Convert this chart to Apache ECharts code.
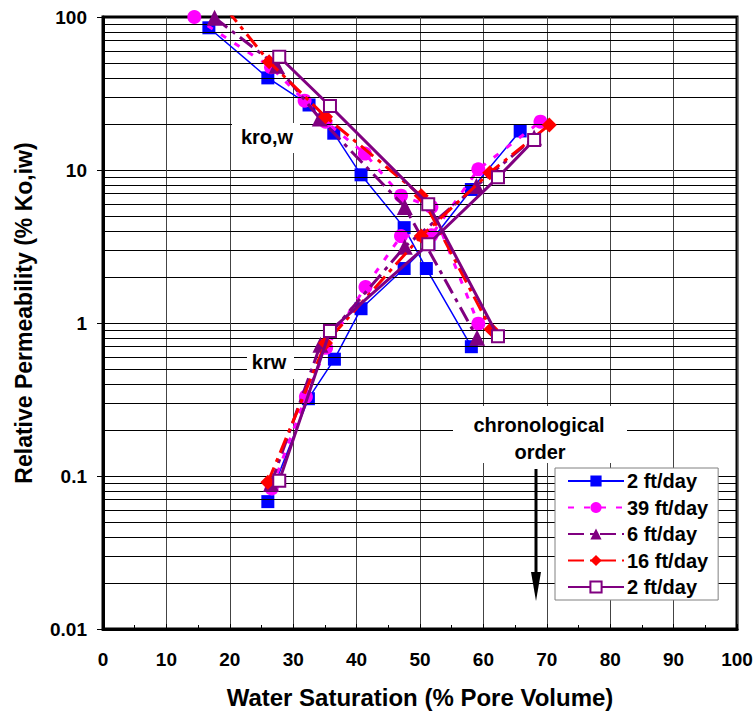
<!DOCTYPE html>
<html>
<head>
<meta charset="utf-8">
<script src="https://cdn.jsdelivr.net/npm/echarts@6/dist/echarts.min.js"></script>
<style>
  html, body { margin: 0; padding: 0; background: #fff; }
  #chart { width: 754px; height: 711px; }
</style>
</head>
<body>
<div id="chart"></div>
<script>
// Water saturation (%) / relative permeability (% Ko,iw)
// 2 ft/day (first run)
const a_kroSw = [16.7, 26.0, 32.5, 36.4, 40.7, 47.5, 51.0, 58.1]
const a_kro   = [85, 40, 26.6, 17.4, 9.3, 4.2, 2.27, 0.70]
const a_krwSw = [26.0, 32.4, 36.5, 40.7, 47.5, 51.4, 58.1, 65.8]
const a_krw   = [0.068, 0.32, 0.58, 1.24, 2.27, 3.3, 7.46, 18.0]
// 39 ft/day
const b_kroSw = [14.4, 26.5, 31.8, 35.1, 41.3, 47.0, 51.8, 59.2]
const b_kro   = [100, 47, 28.4, 20.7, 12.8, 6.8, 5.74, 0.99]
const b_krwSw = [26.6, 32.0, 35.2, 41.4, 47.0, 51.8, 59.2, 69.0]
const b_krw   = [0.083, 0.33, 0.69, 1.72, 3.70, 3.75, 10.1, 20.7]
// 6 ft/day
const c_kroSw = [17.6, 27.4, 34.2, 47.6, 59.0]
const c_kro   = [99, 48, 21.7, 5.74, 0.80]
const c_krwSw = [26.5, 34.3, 47.6, 58.9, 68.0]
const c_krw   = [0.089, 0.72, 3.15, 7.85, 16.3]
// 16 ft/day
const d_kroSw = [19.5, 26.2, 35.1, 50.2, 61.2]
const d_kro   = [112, 51, 22.3, 6.78, 0.91]
const d_krwSw = [26.0, 35.1, 50.2, 61.0, 70.4]
const d_krw   = [0.091, 0.74, 3.70, 9.6, 19.7]
// 2 ft/day (last run)
const e_kroSw = [27.8, 35.8, 51.3, 62.3]
const e_kro   = [55, 26.2, 5.98, 0.82]
const e_krwSw = [27.8, 35.8, 51.3, 62.3, 68.0]
const e_krw   = [0.093, 0.887, 3.27, 8.95, 15.7]

const runNames = ['2 ft/day (first)', '39 ft/day', '6 ft/day', '16 ft/day', '2 ft/day (last)']
const yTickLabels = ['0.01', '0.1', '1', '10', '100']
const minorGridValues = [2,3,4,5,6,7,8,9].flatMap(m => [0.01, 0.1, 1, 10].map(d => +(m * d).toPrecision(3)))

const FONT = "'Liberation Sans', Arial, sans-serif"
const pts = (sw, k) => sw.map((x, i) => [x, k[i]])

const styles = [
  { color: '#0000ff', width: 1.5, type: 'solid', symbol: 'rect', size: 13, fill: '#0000ff' },
  { color: '#ff00ff', width: 3, type: [6, 10], symbol: 'circle', size: 14, fill: '#ff00ff' },
  { color: '#800080', width: 3, type: [16, 6, 4, 6], symbol: 'triangle', size: 16, fill: '#800080' },
  { color: '#ff0000', width: 3, type: [16, 6, 4, 6], symbol: 'diamond', size: 15, fill: '#ff0000' },
  { color: '#800080', width: 3, type: 'solid', symbol: 'rect', size: 12, fill: '#ffffff' }
]
const sets = [
  [pts(a_kroSw, a_kro), pts(a_krwSw, a_krw)],
  [pts(b_kroSw, b_kro), pts(b_krwSw, b_krw)],
  [pts(c_kroSw, c_kro), pts(c_krwSw, c_krw)],
  [pts(d_kroSw, d_kro), pts(d_krwSw, d_krw)],
  [pts(e_kroSw, e_kro), pts(e_krwSw, e_krw)]
]

const series = [{
  // helper: minor log grid lines
  type: 'line', data: [], silent: true, z: 1,
  markLine: {
    silent: true, symbol: ['none', 'none'], animation: false,
    label: { show: false },
    lineStyle: { type: 'solid', color: '#000', width: 1 },
    data: minorGridValues.map(v => ({ yAxis: v }))
  }
}]
sets.forEach((pair, i) => {
  const s = styles[i]
  pair.forEach(data => {
    series.push({
      name: runNames[i],
      type: 'line',
      data: data,
      z: 3 + i,
      clip: true,
      symbol: s.symbol,
      symbolSize: s.size,
      showAllSymbol: true,
      animation: false,
      itemStyle: { color: s.fill, borderColor: s.color, borderWidth: i === 4 ? 2 : 0 },
      lineStyle: { color: s.color, width: s.width, type: s.type }
    })
  })
})

const myChart = echarts.init(document.getElementById('chart'), null, { renderer: 'svg' })
myChart.setOption({
  backgroundColor: '#fff',
  animation: false,
  textStyle: { fontFamily: FONT },
  grid: {
    left: 103, right: 17, top: 17, bottom: 82,
    show: true, borderColor: '#000', borderWidth: 3,
    outerBoundsMode: 'none'
  },
  xAxis: {
    type: 'value', min: 0, max: 100, interval: 10,
    name: 'Water Saturation (% Pore Volume)',
    nameLocation: 'middle', nameGap: 56,
    nameTextStyle: { fontSize: 24, fontWeight: 'bold', color: '#000', fontFamily: FONT },
    axisLine: { lineStyle: { color: '#000', width: 3 } },
    axisTick: { inside: true, length: 5, lineStyle: { color: '#000' } },
    minorTick: { show: true, splitNumber: 2, length: 4, lineStyle: { color: '#000' } },
    splitLine: { show: true, lineStyle: { color: '#444', width: 1 } },
    axisLabel: { margin: 21, fontSize: 19, fontWeight: 'bold', color: '#000', fontFamily: FONT }
  },
  yAxis: {
    type: 'log', logBase: 10, min: 0.01, max: 100,
    name: 'Relative Permeability (% Ko,iw)',
    nameLocation: 'middle', nameGap: 68,
    nameTextStyle: { fontSize: 23, fontWeight: 'bold', color: '#000', fontFamily: FONT, padding: [0, 0, 0, 20] },
    axisLine: { lineStyle: { color: '#000', width: 3 } },
    axisTick: { length: 6, lineStyle: { color: '#000' } },
    splitLine: { show: true, lineStyle: { color: '#000', width: 1 } },
    axisLabel: {
      margin: 16, fontSize: 19, fontWeight: 'bold', color: '#000', fontFamily: FONT,
      formatter: v => yTickLabels[Math.round(Math.log10(v)) + 2]
    }
  },
  legend: {
    orient: 'vertical', left: 555, top: 468,
    data: runNames,
    formatter: n => n.replace(/ \(.*\)/, ''),
    itemWidth: 56, itemHeight: 14, itemGap: 6.5,
    padding: [3, 10, 3, 12],
    backgroundColor: '#fff', borderColor: '#808080', borderWidth: 1,
    textStyle: { fontSize: 20, lineHeight: 20, fontWeight: 'bold', color: '#000', fontFamily: FONT, padding: [0, 0, 0, -2] },
    z: 20
  },
  graphic: [
    { type: 'rect', z: 10, shape: { x: 232, y: 123, width: 68, height: 30 }, style: { fill: '#fff' } },
    { type: 'text', z: 11, x: 267, y: 137, style: { text: 'kro,w', fill: '#000', font: 'bold 20px ' + FONT, align: 'center', verticalAlign: 'middle' } },
    { type: 'rect', z: 10, shape: { x: 247, y: 347, width: 47, height: 32 }, style: { fill: '#fff' } },
    { type: 'text', z: 11, x: 269, y: 362, style: { text: 'krw', fill: '#000', font: 'bold 20px ' + FONT, align: 'center', verticalAlign: 'middle' } },
    { type: 'rect', z: 10, shape: { x: 453, y: 406, width: 174, height: 57 }, style: { fill: '#fff' } },
    { type: 'text', z: 11, x: 539, y: 425, style: { text: 'chronological', fill: '#000', font: 'bold 20px ' + FONT, align: 'center', verticalAlign: 'middle' } },
    { type: 'text', z: 11, x: 540, y: 452, style: { text: 'order', fill: '#000', font: 'bold 20px ' + FONT, align: 'center', verticalAlign: 'middle' } },
    { type: 'line', z: 11, shape: { x1: 536, y1: 469, x2: 536, y2: 578 }, style: { stroke: '#000', lineWidth: 3 } },
    { type: 'polygon', z: 11, shape: { points: [[531, 572], [541, 572], [536, 601]] }, style: { fill: '#000' } }
  ],
  series: series
})
</script>
</body>
</html>
